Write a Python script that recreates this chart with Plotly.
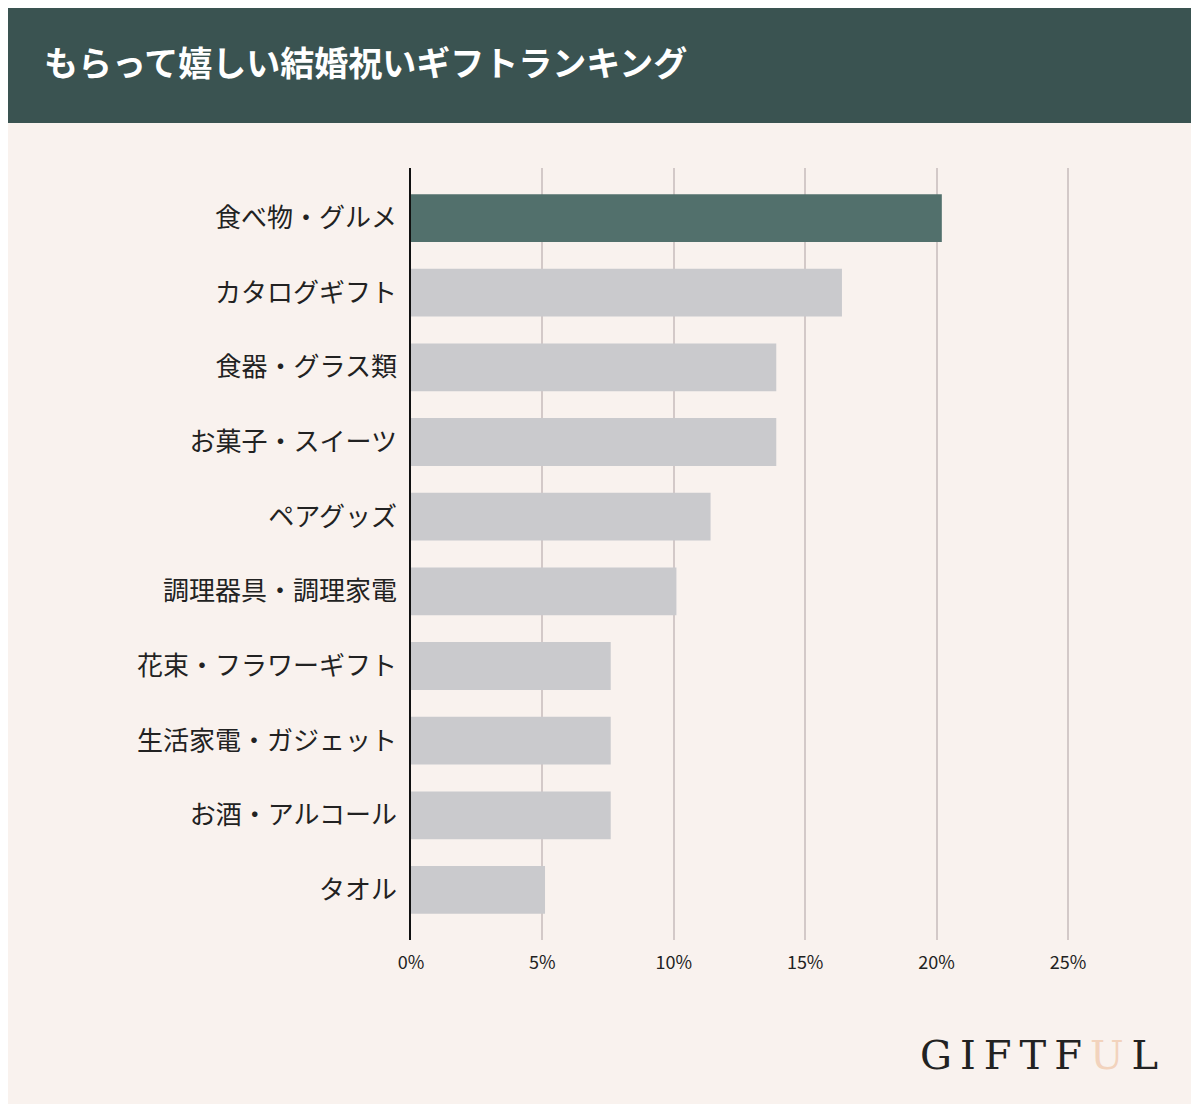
import plotly.graph_objects as go

# データ
categories = ["食べ物・グルメ", "カタログギフト", "食器・グラス類", "お菓子・スイーツ", "ペアグッズ",
              "調理器具・調理家電", "花束・フラワーギフト", "生活家電・ガジェット", "お酒・アルコール", "タオル"]
values = [20.2, 16.4, 13.9, 13.9, 11.4, 10.1, 7.6, 7.6, 7.6, 5.1]
tick_vals = [0, 5, 10, 15, 20, 25]
tick_text = ["0%", "5%", "10%", "15%", "20%", "25%"]

colors = ["#52706c"] + ["#cacacd"] * (len(values) - 1)
font = "Noto Sans CJK JP"

fig = go.Figure(go.Bar(
    x=values, y=categories, orientation="h",
    marker=dict(color=colors, line=dict(width=0)),
    hoverinfo="skip",
))

# ページの余白(8px)を考慮して少し小さく
fig.update_layout(
    width=1183, height=1096,
    paper_bgcolor="#f9f2ee", plot_bgcolor="#f9f2ee",
    margin=dict(l=403, r=81, t=160, b=164),
    bargap=0.36,
    showlegend=False,
    font=dict(family=font, color="#222222"),
    shapes=[dict(type="rect", xref="paper", yref="paper", x0=-0.7, x1=1.2,
                 y0=1.0 + 45 / 772, y1=1.3, fillcolor="#3a5351", line=dict(width=0), layer="below")],
    annotations=[
        dict(text="もらって嬉しい結婚祝いギフトランキング", xref="paper", yref="paper",
             x=-(411 - 42) / 699, y=1 + 106 / 772, xanchor="left", yanchor="middle", showarrow=False,
             font=dict(size=34, color="white", family=font, weight="bold")),
        dict(text="G\u2009I\u2009F\u2009T\u2009F\u2009<span style='color:#f2d3bd'>U</span>\u2009L",
             xref="paper", yref="paper",
             x=1 + 50 / 699, y=-(1055 - 940) / 772, xanchor="right", yanchor="middle", showarrow=False,
             font=dict(size=40, color="#222222", family="DejaVu Serif", weight="normal")),
    ],
)
fig.update_xaxes(range=[0, 26.6], tickvals=tick_vals, ticktext=tick_text, showgrid=True,
                 gridcolor="#d3c9c8", gridwidth=1.5, zeroline=False, showline=False,
                 tickfont=dict(size=18, color="#222222"), ticks="", ticklabelstandoff=10,
                 fixedrange=True)
fig.update_yaxes(range=[len(categories) - 1 + 0.67, -0.67], showline=True, linecolor="#111111",
                 linewidth=1.5, tickfont=dict(size=26, color="#222222"), ticks="",
                 ticklabelstandoff=7, fixedrange=True)

fig.write_html("out.html")
